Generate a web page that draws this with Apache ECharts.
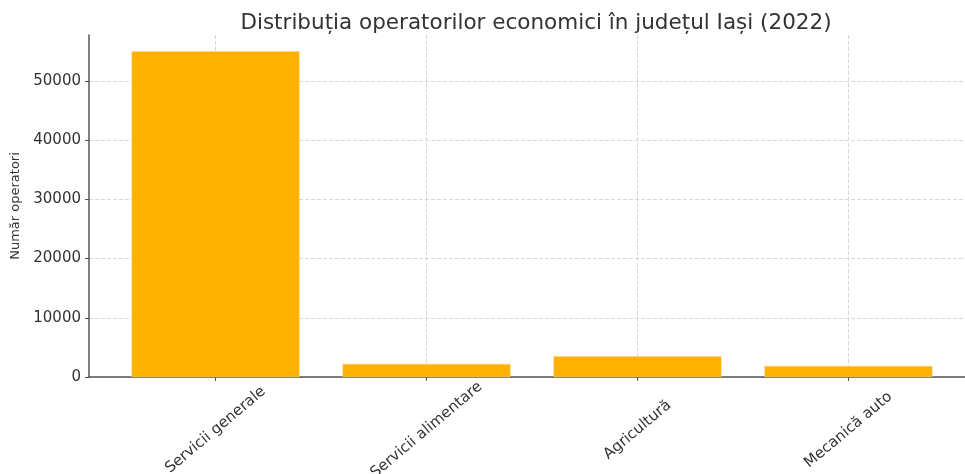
<!DOCTYPE html>
<html lang="ro">
<head>
    <meta charset="utf-8">
    <title>Distribuția operatorilor economici</title>
    <script src="https://cdn.jsdelivr.net/npm/echarts@6/dist/echarts.min.js"></script>
    <style>
        html, body { margin: 0; padding: 0; background: #fff; }
        #chart { width: 965px; height: 474px; }
    </style>
</head>
<body>
<div id="chart"></div>
<script type="text/javascript">
    var categories = ['Servicii generale', 'Servicii alimentare', 'Agricultură', 'Mecanică auto'];
    var operatori = [55000, 2200, 3500, 1850];
    var yTicks = [0, 10000, 20000, 30000, 40000, 50000];

    var font = 'DejaVu Sans';
    var chart = echarts.init(document.getElementById('chart'));

    // bars sit at 0..3 like matplotlib, x range -0.6..3.6
    var barData = operatori.map(function (v, i) { return [i, v]; });
    var xTicks = categories.map(function (c, i) { return i; });

    var option = {
        animation: false,
        title: {
            text: 'Distribuția operatorilor economici în județul Iași (2022)',
            left: 531,
            textAlign: 'center',
            top: 7,
            textStyle: { fontFamily: font, fontSize: 21.5, fontWeight: 'normal', color: '#333' }
        },
        grid: { left: 89, width: 886, top: 35, bottom: 97, outerBoundsMode: 'none' },
        xAxis: {
            type: 'value',
            min: -0.6,
            max: 3.6,
            axisLine: { show: true, onZero: false, lineStyle: { color: '#555', width: 1.5 } },
            axisTick: { show: true, customValues: xTicks, length: 4, lineStyle: { color: '#555' } },
            axisLabel: {
                customValues: xTicks,
                rotate: 40,
                margin: 53,
                align: 'center',
                verticalAlign: 'middle',
                fontFamily: font,
                fontSize: 15,
                color: '#333',
                formatter: function (v) { return categories[Math.round(v)] || ''; }
            },
            splitLine: { show: true, lineStyle: { color: '#d8d8d8', type: 'dashed' } }
        },
        yAxis: {
            type: 'value',
            min: 0,
            max: 57750,
            name: 'Număr operatori',
            nameLocation: 'middle',
            nameGap: 67,
            nameTextStyle: { fontFamily: font, fontSize: 13, color: '#333' },
            axisLine: { show: true, onZero: false, lineStyle: { color: '#555', width: 1.5 } },
            axisTick: { show: true, customValues: yTicks, length: 4, lineStyle: { color: '#555' } },
            axisLabel: {
                customValues: yTicks,
                margin: 8,
                fontFamily: font,
                fontSize: 15,
                color: '#333',
                formatter: function (v) { return String(v); }
            },
            splitLine: { show: true, lineStyle: { color: '#d8d8d8', type: 'dashed' } }
        },
        series: [{
            type: 'bar',
            data: barData,
            barWidth: 168,
            itemStyle: { color: '#FFB000', borderColor: '#FFD27A', borderWidth: 0.5 }
        }]
    };

    chart.setOption(option);
</script>
</body>
</html>
